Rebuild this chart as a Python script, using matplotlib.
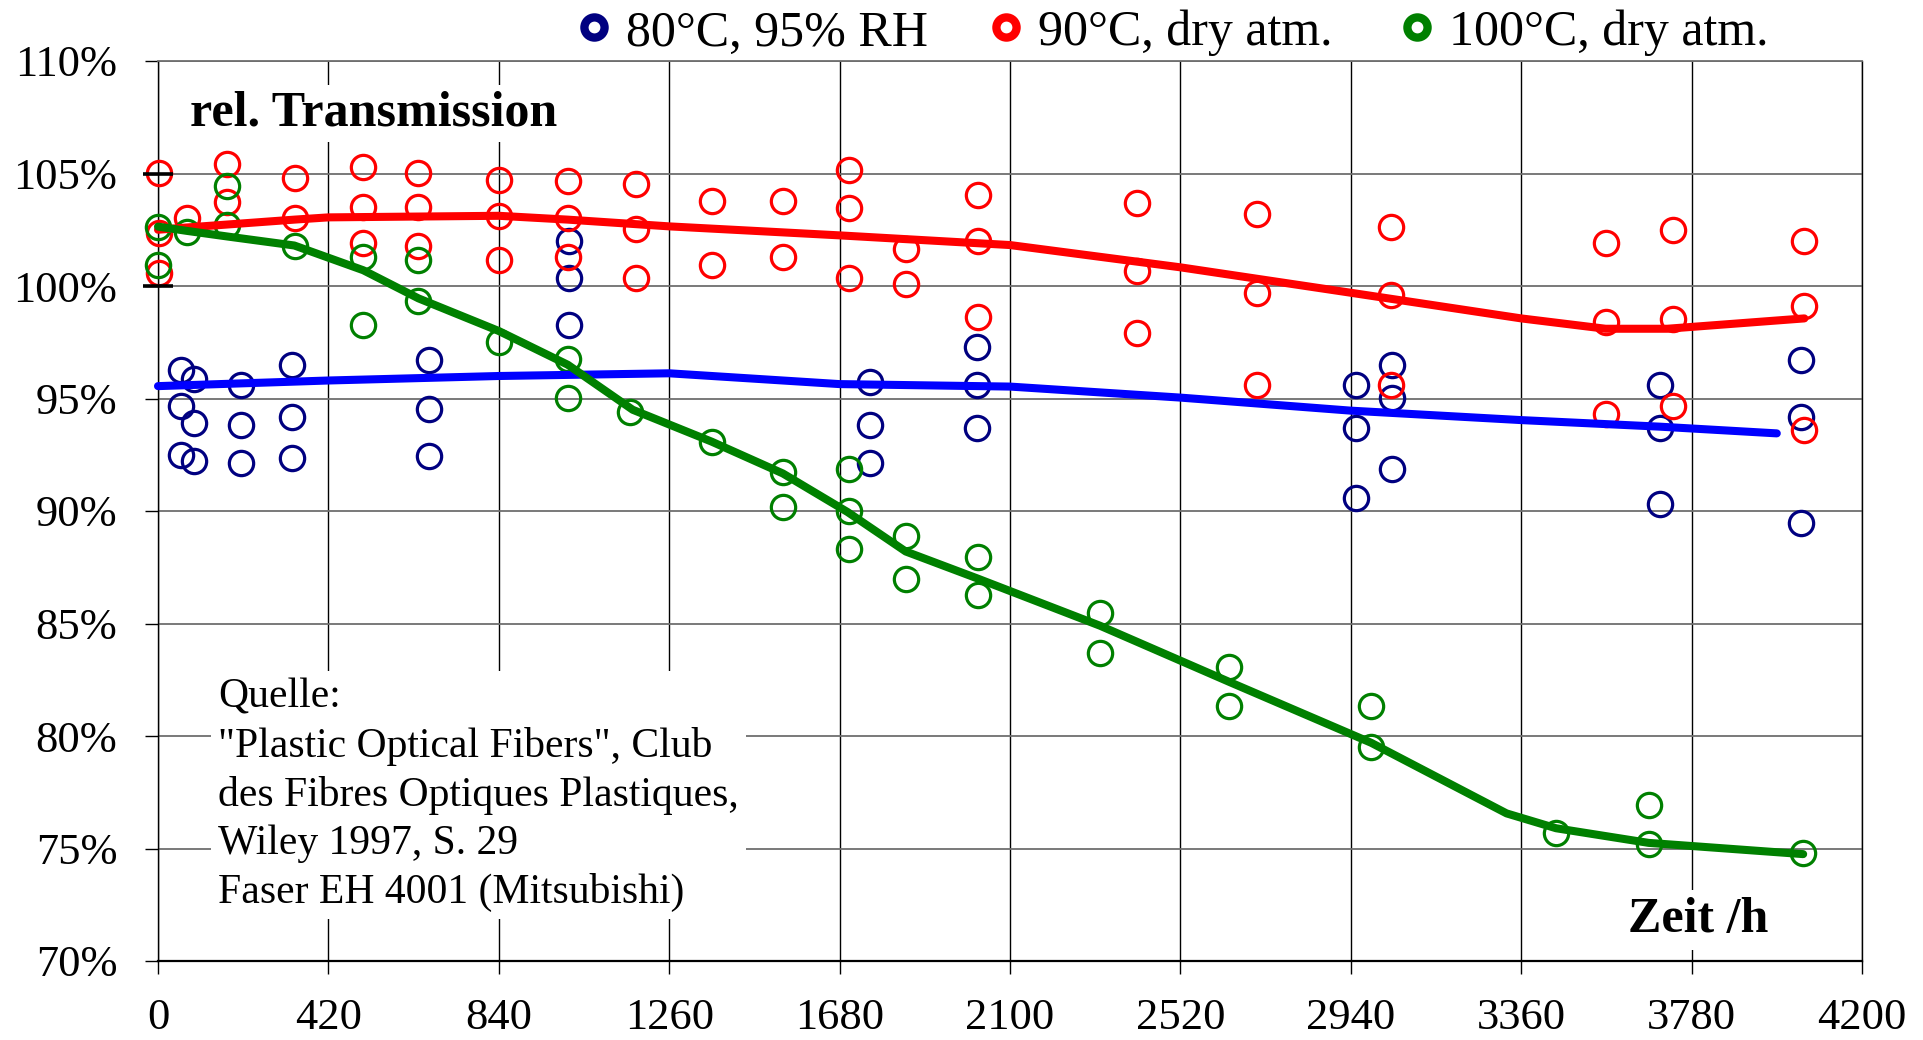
import matplotlib
matplotlib.use('Agg')
import matplotlib.pyplot as plt
from matplotlib.lines import Line2D

plt.rcParams['font.family'] = ['Liberation Serif', 'DejaVu Serif']

# ---------------- data ----------------
series_labels = ["80°C, 95% RH", "90°C, dry atm.", "100°C, dry atm."]
marker_colors = ["#000080", "#FF0000", "#008000"]
line_colors = ["#0000FF", "#FF0000", "#008000"]

x_ticks = [0, 420, 840, 1260, 1680, 2100, 2520, 2940, 3360, 3780, 4200]
y_ticks = [70, 75, 80, 85, 90, 95, 100, 105, 110]

# 80°C, 95% RH  (measured points)
blue_h = [56, 56, 56, 89, 89, 89, 204, 204, 204, 331, 331, 331,
          668, 668, 668, 1014, 1014, 1014, 1755, 1755, 1755,
          2018, 2018, 2018, 2954, 2954, 2954, 3042, 3042, 3042,
          3701, 3701, 3701, 4049, 4049, 4049]
blue_val = [96.27, 94.67, 92.49, 95.85, 93.93, 92.24, 95.60, 93.82, 92.12,
            96.49, 94.19, 92.34, 96.71, 94.52, 92.44, 102.02, 100.34, 98.27,
            95.75, 93.82, 92.12, 97.30, 95.60, 93.70, 95.60, 93.70, 90.56,
            96.49, 95.01, 91.85, 95.60, 93.67, 90.31, 96.71, 94.19, 89.48]

# 90°C, dry atm. (measured points)
red_h = [2, 2, 2, 71, 171, 171, 338, 338, 506, 506, 506, 642, 642, 642,
         841, 841, 841, 1010, 1010, 1010, 1177, 1177, 1177, 1365, 1365,
         1540, 1540, 1702, 1702, 1702, 1843, 1843, 2022, 2022, 2022,
         2412, 2412, 2412, 2708, 2708, 2708, 3038, 3038, 3038,
         3568, 3568, 3568, 3733, 3733, 3733, 4058, 4058, 4058]
red_val = [105.04, 102.34, 100.56, 103.01, 105.41, 103.75, 104.79, 103.01,
           105.27, 103.50, 101.90, 105.04, 103.50, 101.79, 104.71, 103.11, 101.16,
           104.68, 103.01, 101.27, 104.53, 102.52, 100.34, 103.79, 100.93,
           103.79, 101.27, 105.16, 103.45, 100.34, 101.63, 100.09,
           104.04, 102.01, 98.64, 103.70, 100.68, 97.93, 103.20, 99.70, 95.60,
           102.61, 99.60, 95.60, 101.90, 98.41, 94.29, 102.49, 98.52, 94.67,
           101.98, 99.11, 93.60]

# 100°C, dry atm. (measured points)
green_h = [0, 0, 71, 171, 171, 338, 506, 506, 642, 642, 841, 1010, 1010,
           1163, 1365, 1540, 1540, 1702, 1702, 1702, 1843, 1843, 2021, 2021,
           2322, 2322, 2641, 2641, 2991, 2991, 3446, 3674, 3674, 4055]
green_val = [102.64, 100.93, 102.41, 104.44, 102.71, 101.78, 101.30, 98.27,
             101.16, 99.35, 97.53, 96.74, 95.01, 94.41, 93.08, 91.75, 90.19,
             91.85, 90.00, 88.30, 88.90, 87.00, 87.95, 86.25, 85.45, 83.67,
             83.05, 81.33, 81.33, 79.53, 75.67, 76.95, 75.20, 74.80]

# trend lines
blue_line_h = [0, 420, 840, 1260, 1680, 2100, 2520, 2940, 3360, 3700, 3990]
blue_line_val = [95.55, 95.80, 96.00, 96.12, 95.64, 95.53, 95.04, 94.46, 94.04, 93.75, 93.45]

red_line_h = [0, 70, 336, 420, 840, 1010, 1260, 1680, 2100, 2520, 2940, 3360, 3568, 3720, 4058]
red_line_val = [102.5, 102.6, 102.95, 103.05, 103.12, 102.95, 102.65, 102.25, 101.82,
                100.83, 99.70, 98.56, 98.10, 98.10, 98.56]

green_line_h = [0, 71, 171, 336, 506, 642, 840, 1010, 1170, 1365, 1540, 1700, 1843,
                2020, 2322, 2641, 2990, 3324, 3446, 3674, 4055]
green_line_val = [102.64, 102.45, 102.2, 101.8, 100.7, 99.45, 98.0, 96.5, 94.5, 93.08,
                  91.67, 89.95, 88.2, 87.0, 84.9, 82.4, 79.7, 76.56, 75.9, 75.25, 74.75]

# short black reference marks at t = 0
ref_h = [0, 0]
ref_val = [105, 100]

y_label = "rel. Transmission"
x_label = "Zeit /h"
source_text = ('Quelle:\n"Plastic Optical Fibers", Club\n'
               'des Fibres Optiques Plastiques,\nWiley 1997, S. 29\n'
               'Faser EH 4001 (Mitsubishi)')

# ---------------- figure ----------------
fig = plt.figure(figsize=(19.24, 10.40), dpi=100)
ax = fig.add_axes([158 / 1924, 1 - 961 / 1040, (1862 - 158) / 1924, 900 / 1040])
ax.set_xlim(0, 4200)
ax.set_ylim(70, 110)
ax.set_xticks(x_ticks)
ax.set_xticklabels([str(t) for t in x_ticks])
ax.set_yticks(y_ticks)
ax.set_yticklabels([f"{t}%" for t in y_ticks])
ax.tick_params(axis='both', direction='out', length=9.4, width=1,
               labelsize=32, colors='black')
ax.tick_params(axis='y', pad=20)
ax.tick_params(axis='x', pad=17)
ax.grid(axis='x', color='black', lw=1.0)
ax.grid(axis='y', color='#6e6e6e', lw=1.3)
ax.set_axisbelow(True)
for s in ['left', 'right']:
    ax.spines[s].set_color('black')
    ax.spines[s].set_linewidth(1.0)
ax.spines['bottom'].set_linewidth(1.6)
ax.spines['top'].set_color('#6e6e6e')
ax.spines['top'].set_linewidth(1.3)

pts = [(blue_h, blue_val), (red_h, red_val), (green_h, green_val)]
lines = [(blue_line_h, blue_line_val), (red_line_h, red_line_val), (green_line_h, green_line_val)]

for (hx, hv), mc in zip(pts, marker_colors):
    ax.plot(hx, hv, ls='none', marker='o', ms=17.5, mfc='none', mec=mc,
            mew=2.3, clip_on=False, zorder=3)

for (lx, lv), lc in zip(lines, line_colors):
    ax.plot(lx, lv, color=lc, lw=5.8, solid_capstyle='round',
            solid_joinstyle='round', clip_on=False, zorder=4)

ax.plot(ref_h, ref_val, ls='none', marker='_', ms=21.6, mew=2.6,
        color='black', clip_on=False, zorder=5)

# legend (manual, above the plot)
leg_mx = [594, 1006, 1417]
leg_tx = [626, 1038, 1449]
for lab, mc, mx, tx in zip(series_labels, marker_colors, leg_mx, leg_tx):
    fig.add_artist(Line2D([mx / 1924], [1 - 27 / 1040], marker='o', ms=14.5,
                          mfc='none', mec=mc, mew=6.0, ls='none',
                          transform=fig.transFigure))
    fig.text(tx / 1924, 1 - 45.5 / 1040, lab, fontsize=36, ha='left', va='baseline')

# annotations
fig.text(190 / 1924, 1 - 113 / 1040, y_label, fontsize=36, fontweight='bold',
         ha='left', va='center', zorder=6,
         bbox=dict(facecolor='white', edgecolor='none', pad=4))
fig.text(1698 / 1924, 1 - 920 / 1040, x_label, fontsize=36, fontweight='bold',
         ha='center', va='center', zorder=6,
         bbox=dict(facecolor='white', edgecolor='none', pad=5))
fig.text(218 / 1924, 1 - 795 / 1040, source_text, fontsize=30, ha='left',
         va='center', linespacing=1.33, zorder=6,
         bbox=dict(facecolor='white', edgecolor='none', pad=5))

fig.savefig('out.png', dpi=100)
